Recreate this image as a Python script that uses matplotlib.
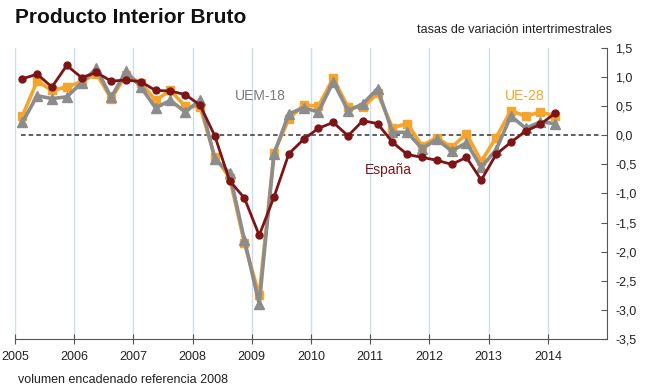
import numpy as np
import matplotlib.pyplot as plt

plt.rcParams['font.family'] = ['Liberation Sans', 'DejaVu Sans']

# Quarterly growth rates, 2005Q1 - 2014Q1
years = list(range(2005, 2015))
espana = [0.97, 1.05, 0.83, 1.20,
          0.99, 1.08, 0.93, 0.95,
          0.92, 0.77, 0.76, 0.70,
          0.52, -0.01, -0.78, -1.08,
          -1.72, -1.06, -0.32, -0.07,
          0.12, 0.22, -0.01, 0.25,
          0.20, -0.12, -0.33, -0.38,
          -0.43, -0.50, -0.38, -0.77,
          -0.33, -0.12, 0.07, 0.19,
          0.38]
ue28 = [0.33, 0.93, 0.77, 0.83,
        0.92, 1.06, 0.63, 1.03,
        0.90, 0.60, 0.77, 0.50,
        0.49, -0.37, -0.73, -1.85,
        -2.75, -0.30, 0.28, 0.52,
        0.50, 0.98, 0.48, 0.48,
        0.72, 0.13, 0.20, -0.18,
        -0.04, -0.21, 0.03, -0.45,
        -0.04, 0.42, 0.33, 0.40,
        0.33]
uem18 = [0.22, 0.68, 0.63, 0.66,
         0.90, 1.15, 0.65, 1.10,
         0.83, 0.47, 0.60, 0.40,
         0.60, -0.40, -0.65, -1.80,
         -2.90, -0.32, 0.37, 0.47,
         0.40, 0.92, 0.42, 0.54,
         0.80, 0.05, 0.05, -0.23,
         -0.07, -0.27, -0.13, -0.55,
         -0.25, 0.33, 0.12, 0.23,
         0.20]
yticks = [-3.5, -3.0, -2.5, -2.0, -1.5, -1.0, -0.5, 0.0, 0.5, 1.0, 1.5]

# quarter midpoints
x = 2005 + (np.arange(len(espana)) + 0.5) / 4

c_es = '#7d1416'
c_ue = '#f6a52a'
c_uem = '#8c8c8c'

fig = plt.figure(figsize=(6.5, 3.9), dpi=100)
ax = fig.add_axes([0.023, 0.131, 0.911, 0.746])

for yr in years:
    ax.axvline(yr, color='#cfdcea', lw=1, zorder=0)
ax.axhline(0, color='#333333', lw=1.1, ls=(0, (3, 2)), zorder=1, xmin=0.01, xmax=0.99)

ax.plot(x, ue28, color=c_ue, lw=2.6, marker='s', ms=6, zorder=3)
ax.plot(x, uem18, color=c_uem, lw=2.6, marker='^', ms=6.5, zorder=4)
ax.plot(x, espana, color=c_es, lw=2, marker='o', ms=5, zorder=5)

ax.set_xlim(2005, 2015)
ax.set_ylim(-3.5, 1.5)

for s in ['top', 'left']:
    ax.spines[s].set_visible(False)
ax.spines['right'].set_color('#555555')
ax.spines['bottom'].set_color('#555555')

ax.yaxis.tick_right()
ax.set_yticks(yticks)
ax.set_yticklabels([f'{v:.1f}'.replace('.', ',') for v in yticks])
ax.tick_params(axis='y', direction='in', length=4, color='#555555',
               labelsize=9, pad=6, labelcolor='#222222')
ax.set_xticks(years)
ax.set_xticklabels([str(y) for y in years])
ax.tick_params(axis='x', direction='inout', length=7, color='#555555',
               labelsize=9, pad=5, labelcolor='#222222')

ax.text(2009.15, 0.68, 'UEM-18', color='#7a7a7a', fontsize=10, ha='center', va='center')
ax.text(2011.3, -0.6, 'España', color=c_es, fontsize=10, ha='center', va='center')
ax.text(2013.6, 0.68, 'UE-28', color=c_ue, fontsize=10, ha='center', va='center')

fig.text(0.023, 0.955, 'Producto Interior Bruto', fontsize=15, fontweight='bold',
         va='center', ha='left', color='#111111')
fig.text(0.942, 0.922, 'tasas de variación intertrimestrales', fontsize=9,
         va='center', ha='right', color='#222222')
fig.text(0.028, 0.025, 'volumen encadenado referencia 2008', fontsize=9,
         va='center', ha='left', color='#222222')

fig.savefig('out.png', dpi=100)
